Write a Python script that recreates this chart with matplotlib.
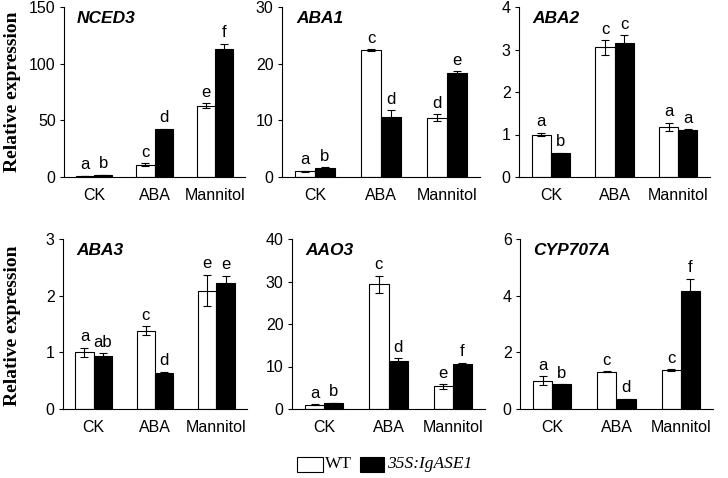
import matplotlib
matplotlib.use("Agg")
import matplotlib.pyplot as plt
from matplotlib.patches import Rectangle
import numpy as np

# ---- data ----
treatments = ["CK", "ABA", "Mannitol"]
genes = ["NCED3", "ABA1", "ABA2", "ABA3", "AAO3", "CYP707A"]

wt_mean = {
    "NCED3": [1.0, 11.0, 63.0],
    "ABA1": [1.0, 22.4, 10.5],
    "ABA2": [1.0, 3.05, 1.18],
    "ABA3": [1.0, 1.38, 2.09],
    "AAO3": [1.0, 29.4, 5.3],
    "CYP707A": [1.0, 1.31, 1.37],
}
wt_err = {
    "NCED3": [0.2, 1.0, 2.0],
    "ABA1": [0.1, 0.15, 0.6],
    "ABA2": [0.04, 0.17, 0.1],
    "ABA3": [0.08, 0.08, 0.28],
    "AAO3": [0.1, 2.0, 0.5],
    "CYP707A": [0.15, 0.02, 0.04],
}
oe_mean = {
    "NCED3": [2.0, 42.0, 113.0],
    "ABA1": [1.6, 10.6, 18.3],
    "ABA2": [0.56, 3.15, 1.1],
    "ABA3": [0.94, 0.64, 2.23],
    "AAO3": [1.4, 11.2, 10.5],
    "CYP707A": [0.87, 0.35, 4.17],
}
oe_err = {
    "NCED3": [0.2, 0.5, 4.5],
    "ABA1": [0.1, 1.2, 0.4],
    "ABA2": [0.01, 0.18, 0.02],
    "ABA3": [0.04, 0.02, 0.12],
    "AAO3": [0.1, 0.8, 0.4],
    "CYP707A": [0.01, 0.02, 0.43],
}
wt_letters = {
    "NCED3": ["a", "c", "e"],
    "ABA1": ["a", "c", "d"],
    "ABA2": ["a", "c", "a"],
    "ABA3": ["a", "c", "e"],
    "AAO3": ["a", "c", "e"],
    "CYP707A": ["a", "c", "c"],
}
oe_letters = {
    "NCED3": ["b", "d", "f"],
    "ABA1": ["b", "d", "e"],
    "ABA2": ["b", "c", "a"],
    "ABA3": ["ab", "d", "e"],
    "AAO3": ["b", "d", "f"],
    "CYP707A": ["b", "d", "f"],
}
ymax = {"NCED3": 150, "ABA1": 30, "ABA2": 4, "ABA3": 3, "AAO3": 40, "CYP707A": 6}
ystep = {"NCED3": 50, "ABA1": 10, "ABA2": 1, "ABA3": 1, "AAO3": 10, "CYP707A": 2}

# axes boxes in pixels: left, right, top, bottom
W, H = 728, 478
boxes = {
    "NCED3": (64, 245, 7, 177),
    "ABA1": (282, 480, 7, 177),
    "ABA2": (519, 710, 7, 177),
    "ABA3": (63, 247, 239, 409),
    "AAO3": (292, 485, 239, 409),
    "CYP707A": (520, 713, 239, 409),
}

sans = "Liberation Sans"
serif = "Liberation Serif"

fig = plt.figure(figsize=(W / 100, H / 100), dpi=100)
fig.patch.set_facecolor("white")

bw = 0.3
ekw = dict(ecolor="black", elinewidth=0.8, capsize=3, capthick=0.8)
for g in genes:
    l, r, t, b = boxes[g]
    ax = fig.add_axes([l / W, 1 - b / H, (r - l) / W, (b - t) / H])
    x = np.arange(3)
    ax.bar(x - bw / 2, wt_mean[g], bw, color="white", edgecolor="black", linewidth=0.8,
           yerr=wt_err[g], error_kw=ekw)
    ax.bar(x + bw / 2, oe_mean[g], bw, color="black", edgecolor="black", linewidth=0.8,
           yerr=oe_err[g], error_kw=ekw)
    pad = ymax[g] * 0.02
    for i in range(3):
        ax.text(x[i] - bw / 2, wt_mean[g][i] + wt_err[g][i] + pad, wt_letters[g][i],
                ha="center", va="bottom", fontsize=12, family=sans)
        ax.text(x[i] + bw / 2, oe_mean[g][i] + oe_err[g][i] + pad, oe_letters[g][i],
                ha="center", va="bottom", fontsize=12, family=sans)
    ax.set_xlim(-0.5, 2.5)
    ax.set_ylim(0, ymax[g])
    ax.set_yticks(np.arange(0, ymax[g] + 0.001, ystep[g]))
    ax.set_xticks(x)
    ax.set_xticklabels(treatments, family=sans, fontsize=11.5)
    for lab in ax.get_yticklabels():
        lab.set_family(sans)
        lab.set_fontsize(11.5)
    ax.tick_params(axis="x", length=0, pad=8)
    ax.tick_params(axis="y", length=3, width=0.8, direction="out", pad=3)
    ax.spines["top"].set_visible(False)
    ax.spines["right"].set_visible(False)
    ax.spines["left"].set_linewidth(0.8)
    ax.spines["bottom"].set_linewidth(0.8)
    ax.text(0.07, 0.975, g, transform=ax.transAxes, ha="left", va="top",
            fontsize=12.5, fontweight="bold", fontstyle="italic", family=sans)

# y labels
fig.text(13 / W, 1 - 92 / H, "Relative expression", rotation=90, ha="center", va="center",
         fontsize=14, fontweight="bold", family=serif)
fig.text(13 / W, 1 - 326 / H, "Relative expression", rotation=90, ha="center", va="center",
         fontsize=14, fontweight="bold", family=serif)

# legend
fig.patches.append(Rectangle((297 / W, 1 - 472 / H), 26 / W, 15 / H, transform=fig.transFigure,
                             facecolor="white", edgecolor="black", linewidth=0.8))
fig.text(325 / W, 1 - 464 / H, "WT", ha="left", va="center", fontsize=12.5, family=serif)
fig.patches.append(Rectangle((360 / W, 1 - 472 / H), 24 / W, 15 / H, transform=fig.transFigure,
                             facecolor="black", edgecolor="black", linewidth=0.8))
fig.text(387 / W, 1 - 464 / H, "35S:IgASE1", ha="left", va="center", fontsize=12.5,
         family=serif, fontstyle="italic")

fig.savefig("out.png", dpi=100)
